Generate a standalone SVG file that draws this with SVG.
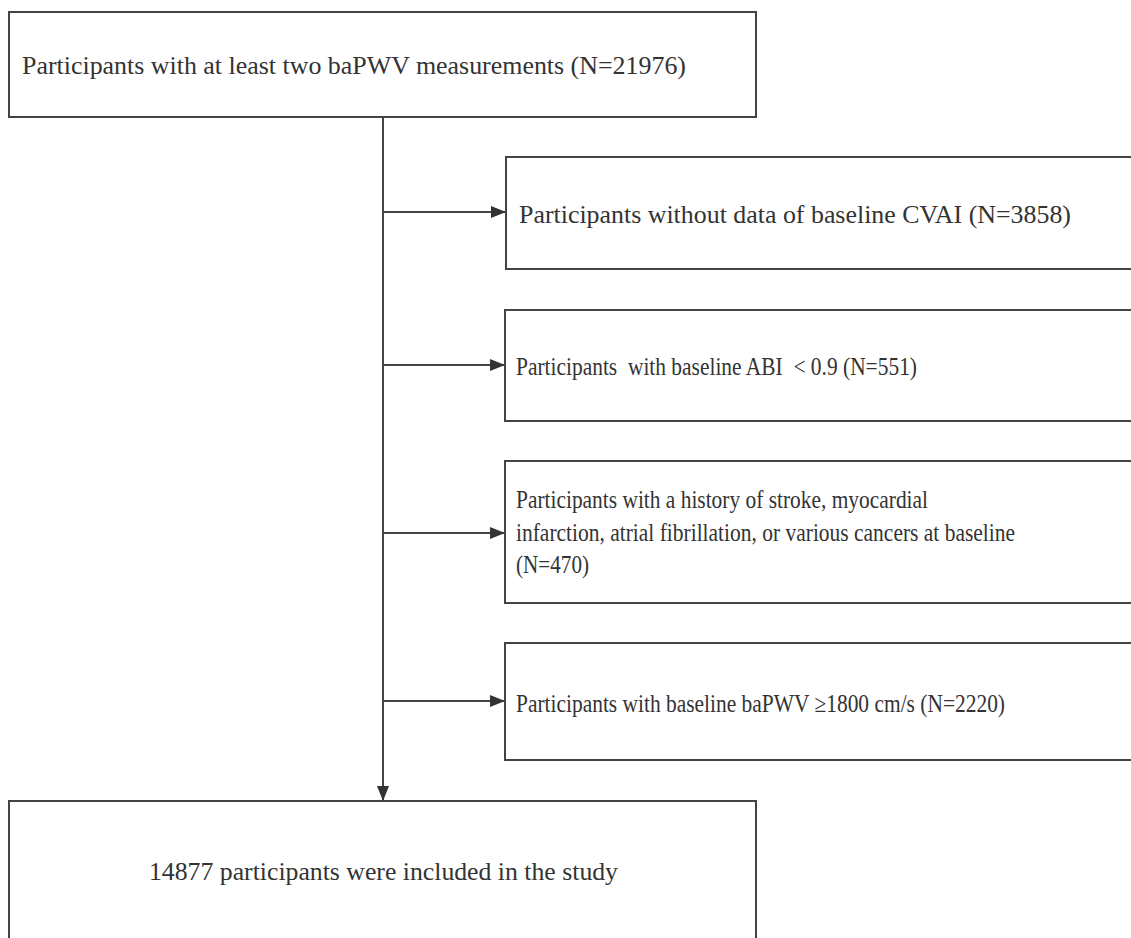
<svg xmlns="http://www.w3.org/2000/svg" width="1131" height="938" viewBox="0 0 1131 938">
<defs>
<style>
.box{fill:#fff;stroke:#444;stroke-width:2}
.t{font-family:"Liberation Serif","Times New Roman",serif;font-size:26px;fill:#333}
.s{font-size:25px}
.ln{stroke:#444;stroke-width:2;fill:none}
</style>
<marker id="ah" viewBox="0 0 15 12" refX="15" refY="6" markerWidth="15" markerHeight="12" markerUnits="userSpaceOnUse" orient="auto">
<path d="M0,0 L15,6 L0,12 z" fill="#333"/>
</marker>
</defs>
<rect width="1131" height="938" fill="#fff"/>
<g id="connectors">
<line class="ln" x1="383" y1="117" x2="383" y2="801" marker-end="url(#ah)"/>
<line class="ln" x1="383" y1="212" x2="506" y2="212" marker-end="url(#ah)"/>
<line class="ln" x1="383" y1="365" x2="505" y2="365" marker-end="url(#ah)"/>
<line class="ln" x1="383" y1="533" x2="505" y2="533" marker-end="url(#ah)"/>
<line class="ln" x1="383" y1="701" x2="505" y2="701" marker-end="url(#ah)"/>
</g>
<g id="start">
<rect class="box" x="9" y="12" width="747" height="105"/>
<text class="t" x="22" y="74" textLength="664" lengthAdjust="spacingAndGlyphs">Participants with at least two baPWV measurements (N=21976)</text>
</g>
<g id="excl1">
<rect class="box" x="506" y="157" width="630" height="112"/>
<text class="t" x="519" y="223" textLength="552" lengthAdjust="spacingAndGlyphs">Participants without data of baseline CVAI (N=3858)</text>
</g>
<g id="excl2">
<rect class="box" x="505" y="310" width="631" height="111"/>
<text class="t s" x="516" y="375" xml:space="preserve" textLength="401" lengthAdjust="spacingAndGlyphs">Participants  with baseline ABI  &lt; 0.9 (N=551)</text>
</g>
<g id="excl3">
<rect class="box" x="505" y="461" width="631" height="142"/>
<text class="t s" x="516" y="508" textLength="412" lengthAdjust="spacingAndGlyphs">Participants with a history of stroke, myocardial</text>
<text class="t s" x="516" y="541" textLength="499" lengthAdjust="spacingAndGlyphs">infarction, atrial fibrillation, or various cancers at baseline</text>
<text class="t s" x="516" y="573" textLength="73" lengthAdjust="spacingAndGlyphs">(N=470)</text>
</g>
<g id="excl4">
<rect class="box" x="505" y="643" width="631" height="117"/>
<text class="t s" x="516" y="712" textLength="489" lengthAdjust="spacingAndGlyphs">Participants with baseline baPWV ≥1800 cm/s (N=2220)</text>
</g>
<g id="final">
<rect class="box" x="9" y="801" width="747" height="160"/>
<text class="t" x="149" y="880" textLength="469" lengthAdjust="spacingAndGlyphs">14877 participants were included in the study</text>
</g>
</svg>
